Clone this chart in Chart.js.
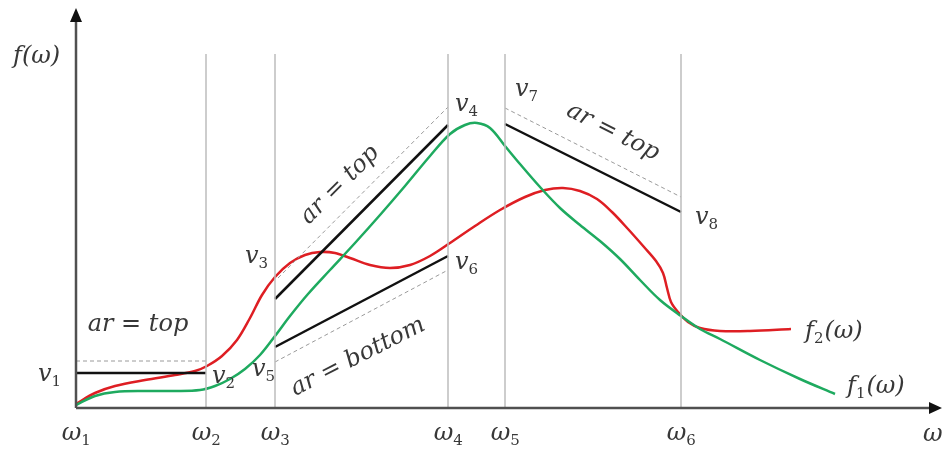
<!DOCTYPE html>
<html>
<head>
<meta charset="utf-8">
<script src="https://cdn.jsdelivr.net/npm/chart.js@4"></script>
<style>
  body { margin: 0; background: #fff; }
  #wrap { width: 942px; height: 459px; }
</style>
</head>
<body>
<div id="wrap"><canvas id="fig"></canvas></div>
<script>
// curve samples (x in omega units, y in f units)
const f1X = [0,19,39,69,99,124,139,154,169,184,199,214,232,254,279,304,329,354,374,389,401,414,429,444,464,484,504,524,544,564,584,605,624,644,684,724,759];
const f1Y = [3,12,16,17,17,18,22,29,39,53,72,92,114,138,165,193,222,252,274,283,285,280,262,244,221,200,183,167,149,128,108,92,79,69,48,29,14];

const f2X = [0,19,39,69,99,119,131,146,161,174,186,199,214,229,244,259,274,294,314,334,354,374,399,424,449,469,487,504,521,536,552,568,580,587,591,595,602,612,624,644,674,715];
const f2Y = [4,15,22,28,33,37,42,52,68,90,113,131,145,153,156,155,150,143,140,143,152,165,182,198,211,218,220,217,209,196,179,161,147,135,120,106,96,86,80,77,77,79];

// omega break points
const omegas = [0, 130, 199, 372, 429, 605];
const omegaNames = ['1', '2', '3', '4', '5', '6'];
const gridTop = 354;

// approximation segments: [x0, y0, x1, y1]
const segments = [
  [0, 35, 130, 35],
  [199, 109, 372, 283],
  [199, 61, 372, 152],
  [429, 284, 605, 196]
];
// reference (dashed) bounds
const bounds = [
  [0, 47, 130, 47],
  [202, 130, 372, 301],
  [199, 46, 372, 138],
  [429, 300, 605, 211]
];

const xMax = 866;
const yMax = 400;

const textColor = '#383838';
const mathFont = '"DejaVu Serif", serif';

function pts(xs, ys) {
  return xs.map((x, i) => ({ x: x, y: ys[i] }));
}

const datasets = [];

omegas.slice(1).forEach(w => {
  datasets.push({
    data: [{ x: w, y: 0 }, { x: w, y: gridTop }],
    borderColor: '#bcbcbc', borderWidth: 1.5, pointRadius: 0, clip: false
  });
});

bounds.forEach(s => {
  datasets.push({
    data: [{ x: s[0], y: s[1] }, { x: s[2], y: s[3] }],
    borderColor: '#9a9a9a', borderWidth: 1, borderDash: [4, 3], pointRadius: 0, clip: false
  });
});

segments.forEach(s => {
  datasets.push({
    data: [{ x: s[0], y: s[1] }, { x: s[2], y: s[3] }],
    borderColor: '#111111', borderWidth: 2.5, pointRadius: 0, clip: false
  });
});

datasets.push({
  label: 'f1',
  data: pts(f1X, f1Y),
  borderColor: 'rgb(30, 170, 95)', borderWidth: 2.5,
  pointRadius: 0, tension: 0.35, clip: false
});
datasets.push({
  label: 'f2',
  data: pts(f2X, f2Y),
  borderColor: 'rgb(222, 30, 35)', borderWidth: 2.5,
  pointRadius: 0, tension: 0.35, clip: false
});

// text labels, anchored left/baseline
const subLabels = [
  ['v', '1', -38, 27], ['v', '2', 136, 25], ['v', '5', 176, 32], ['v', '3', 169, 145],
  ['v', '4', 379, 297], ['v', '6', 379, 139], ['v', '7', 439, 312], ['v', '8', 619, 184]
];
const rotLabels = [
  ['ar = top', 62, 83, 0],
  ['ar = top', 264, 223, -45],
  ['ar = bottom', 282, 51, -27],
  ['ar = top', 537, 276, 27]
];

function drawSub(ctx, main, sub, px, py, size) {
  ctx.font = 'italic ' + size + 'px ' + mathFont;
  ctx.fillText(main, px, py);
  const w = ctx.measureText(main).width;
  ctx.font = Math.round(size * 0.64) + 'px ' + mathFont;
  ctx.fillText(sub, px + w, py + 5);
  return w + ctx.measureText(sub).width;
}

const figurePlugin = {
  id: 'figure',
  afterDatasetsDraw(chart) {
    const ctx = chart.ctx;
    const xs = chart.scales.x, ys = chart.scales.y;
    const ox = xs.getPixelForValue(0), oy = ys.getPixelForValue(0);
    const ex = xs.getPixelForValue(xMax), ty = ys.getPixelForValue(yMax);
    ctx.save();
    // axes with arrows
    ctx.strokeStyle = '#505050';
    ctx.lineWidth = 2.5;
    ctx.beginPath();
    ctx.moveTo(ox, oy); ctx.lineTo(ex - 8, oy);
    ctx.moveTo(ox, oy); ctx.lineTo(ox, ty + 10);
    ctx.stroke();
    ctx.fillStyle = '#111';
    ctx.beginPath();
    ctx.moveTo(ex, oy); ctx.lineTo(ex - 13, oy - 6); ctx.lineTo(ex - 13, oy + 6); ctx.closePath();
    ctx.moveTo(ox, ty); ctx.lineTo(ox - 6, ty + 14); ctx.lineTo(ox + 6, ty + 14); ctx.closePath();
    ctx.fill();

    ctx.fillStyle = textColor;
    ctx.textBaseline = 'alphabetic';
    ctx.textAlign = 'left';
    const size = 24;
    subLabels.forEach(l => {
      drawSub(ctx, l[0], l[1], xs.getPixelForValue(l[2]), ys.getPixelForValue(l[3]), size);
    });
    // omega ticks
    omegas.forEach((w, i) => {
      ctx.font = 'italic ' + size + 'px ' + mathFont;
      const mw = ctx.measureText('ω').width;
      const cx = xs.getPixelForValue(w) - (mw + 9) / 2;
      drawSub(ctx, 'ω', omegaNames[i], cx, ys.getPixelForValue(-32), size);
    });
    ctx.font = 'italic ' + size + 'px ' + mathFont;
    ctx.fillText('ω', xs.getPixelForValue(847), ys.getPixelForValue(-33));
    // function names
    let w0 = drawSub(ctx, 'f', '2', xs.getPixelForValue(729), ys.getPixelForValue(70), size);
    ctx.font = 'italic ' + size + 'px ' + mathFont;
    ctx.fillText('(ω)', xs.getPixelForValue(729) + w0 + 1, ys.getPixelForValue(70));
    w0 = drawSub(ctx, 'f', '1', xs.getPixelForValue(771), ys.getPixelForValue(15), size);
    ctx.font = 'italic ' + size + 'px ' + mathFont;
    ctx.fillText('(ω)', xs.getPixelForValue(771) + w0 + 1, ys.getPixelForValue(15));
    ctx.fillText('f(ω)', xs.getPixelForValue(-63), ys.getPixelForValue(345));
    // annotations along the segments
    ctx.textAlign = 'center';
    ctx.textBaseline = 'middle';
    rotLabels.forEach(l => {
      ctx.save();
      ctx.translate(xs.getPixelForValue(l[1]), ys.getPixelForValue(l[2]));
      ctx.rotate(l[3] * Math.PI / 180);
      ctx.font = 'italic ' + size + 'px ' + mathFont;
      ctx.fillText(l[0], 0, 0);
      ctx.restore();
    });
    ctx.restore();
  }
};

new Chart(document.getElementById('fig'), {
  type: 'line',
  data: { datasets: datasets },
  options: {
    responsive: true,
    maintainAspectRatio: false,
    animation: false,
    layout: { padding: { left: 76, right: 0, top: 8, bottom: 51 } },
    scales: {
      x: { type: 'linear', min: 0, max: xMax, display: false },
      y: { type: 'linear', min: 0, max: yMax, display: false }
    },
    plugins: { legend: { display: false }, tooltip: { enabled: false } }
  },
  plugins: [figurePlugin]
});
</script>
</body>
</html>
